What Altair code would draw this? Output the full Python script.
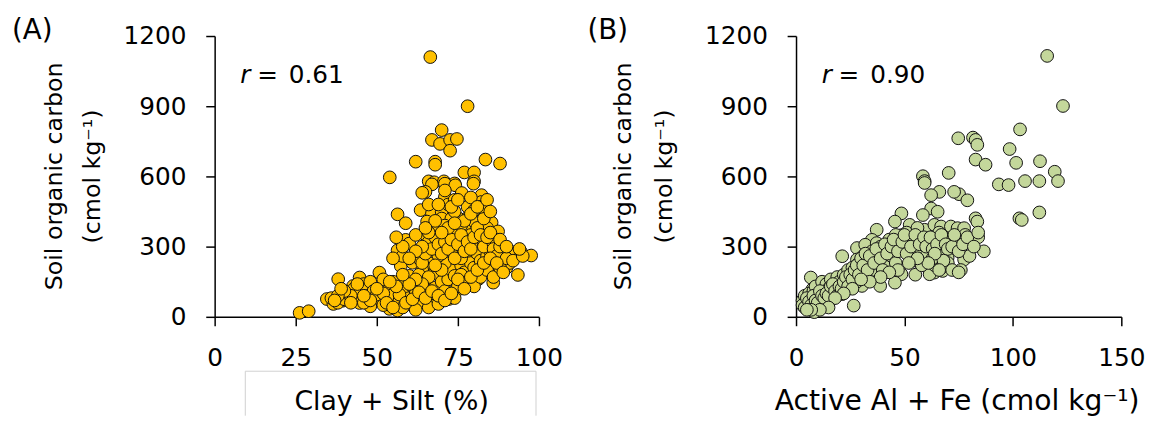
import altair as alt
import pandas as pd

# Panel A: Clay + Silt (%) vs SOC
a_x = [66.5, 78, 70, 67, 69.5, 72.6, 74.7, 72.6, 62, 68, 68, 83.5, 88, 54, 77, 80,
       66, 67.7, 70.7, 74, 80, 67, 71, 74.2, 79.8, 65, 71, 76.2, 82.3, 82.3,
       56.4, 63.5, 58.9, 67, 70, 65.5, 69.6, 75.2, 78.3, 80.3, 84.3, 85.4,
       75.7, 77.2, 87.4, 58.9, 60, 65, 67, 71, 77.7, 80.3, 82.8, 86.4,
       56.4, 66, 70, 73.2, 75.7, 68, 72.2, 78.8, 83.3, 86.4, 92, 94.5, 97.6, 89.9,
       57.4, 61, 67, 71, 75.2, 78.3, 81.3, 93.5, 85.9, 60, 64.5, 50.8,
       38.1, 44.7, 42.7, 34.6, 36.6, 39.6, 44.2, 47.8, 51.8, 51.3,
       44.7, 49.8, 55.9, 56.9, 60, 53.9, 56.4, 61, 64, 67, 70.6, 72.2, 75.2,
       71, 77.2, 81.3, 26.2, 29,
       36, 38, 40, 41, 43, 45, 46, 47, 48, 49, 50, 52, 53, 54, 55, 57, 58, 59,
       60, 61, 62, 63, 64, 65, 66, 68, 69, 70, 71, 72, 73, 74, 75, 76, 77, 78,
       79, 80, 81, 82, 83, 84, 85, 86, 87, 88, 89, 90, 91,
       72, 74, 78, 80, 76, 73, 79, 84, 70, 68, 66, 64, 62, 63, 58, 55, 48, 42,
       46, 52, 58, 62, 66, 69, 74, 57, 83, 86, 89, 76, 73, 71, 69, 66, 64,
       62, 63, 64, 65, 66, 67, 68, 69, 70, 71, 72, 73, 74, 75, 76, 77, 78, 79, 80,
       81, 82, 83, 84, 85, 86, 87, 88, 73, 74, 71, 77, 79, 82, 76, 78, 80, 82, 84,
       86, 88, 90, 92, 95, 70, 68, 66, 64, 62, 60, 58, 56, 54, 52, 50, 48, 46, 44,
       42, 40, 38, 37, 39, 53, 55, 59, 61, 63, 65, 67, 69, 71, 73, 75, 77, 79, 81,
       83, 85, 87, 89, 72, 74, 70, 68, 66, 64, 62, 60, 58, 56, 55, 65, 69, 71, 73,
       75, 79, 81, 84, 85, 88, 90, 94]
a_y = [1110, 900, 798, 756, 739, 756, 760, 710, 663, 663, 650, 672, 655, 596, 617, 617,
       579, 575, 579, 570, 579, 566, 569, 562, 569, 534, 512, 529, 520, 491,
       438, 456, 400, 442, 449, 407, 400, 421, 428, 403, 428, 403,
       379, 372, 365, 329, 313, 351, 358, 344, 329, 301, 322, 332,
       284, 308, 294, 301, 284, 266, 245, 245, 224, 245, 276, 276, 262, 224,
       217, 231, 203, 189, 203, 175, 168, 179, 146, 175, 168, 189,
       161, 168, 132, 76, 55, 69, 118, 132, 132, 118,
       59, 69, 55, 104, 97, 34, 27, 48, 90, 62, 97, 76, 118,
       139, 146, 161, 17, 24,
       80, 60, 75, 100, 120, 105, 140, 85, 150, 110, 95, 160, 80, 120, 95, 70, 130, 110,
       80, 130, 100, 60, 120, 150, 95, 125, 180, 150, 110, 160, 200, 175, 130, 220, 190, 255,
       230, 210, 270, 240, 195, 260, 280, 225, 195, 240, 260, 210, 230,
       480, 500, 470, 455, 390, 360, 350, 380, 420, 380, 480, 530, 350, 250, 260, 150, 45, 90,
       60, 50, 40, 30, 40, 55, 80, 95, 300, 310, 270, 250, 270, 230, 260, 230, 200,
       140, 180, 230, 270, 320, 290, 340, 310, 270, 320, 290, 330, 250, 310, 350, 280, 320, 290, 340,
       380, 350, 420, 340, 360, 290, 260, 300, 420, 450, 390, 410, 440, 470, 180, 150, 130, 170, 200,
       170, 210, 250, 240, 260, 200, 220, 170, 140, 160, 140, 180, 130, 150, 100, 120, 70, 90, 140,
       60, 110, 90, 70, 120, 60, 40, 60, 75, 105, 80, 110, 90, 70, 100, 160, 120, 170, 200,
       230, 250, 230, 190, 380, 400, 360, 410, 360, 300, 280, 250, 300, 340, 250, 380, 480, 540, 470,
       500, 510, 470, 500, 450, 330, 300, 290]

# Panel B: Active Al + Fe vs SOC
b_x = [115.8, 123.1, 103.3, 74.8, 81.6, 82.8, 83.6, 98.5, 82.8, 87.4, 101.5, 112.5, 119.3,
       58.5, 59.3, 70.4, 93.5, 98, 105.6, 112.2, 120.8, 59.3, 66.1, 62.3, 75.2, 79, 72.9,
       103, 104.1, 112.2, 48.6, 62.3, 65.3, 58.5, 45.6, 52.4, 37.2, 35,
       59.3, 63.8, 66.9, 71.4, 74.5, 77.5, 82.8, 83.6,
       48.6, 55.5, 61.6, 65.3, 71.4, 76, 81.3, 86.6,
       28.1, 31.9, 37.2, 42.6, 45.6, 48.6, 56.2, 52.4, 65.3, 69.9, 77.5,
       21.3, 28.1, 36.5, 40.3, 57.8, 63.8, 67.6, 61.6, 48.6, 45.6, 36.5, 38.8,
       19.8, 24.3, 28.1, 19, 22.8, 12.9, 6.8, 7.6, 4.6, 6.1, 8.4, 10.6, 15.2, 26.6,
       16.7, 21.3, 30.4, 33.4,
       3, 4, 5, 6, 7, 8, 9, 10, 11, 12, 13, 14, 15, 16, 17, 18, 19, 20, 22, 24, 25, 26,
       27, 29, 30, 31, 33, 34, 35, 38, 39, 41, 42, 43, 44, 46, 47, 50, 51, 53, 54, 56,
       58, 60, 62, 64, 66, 68, 70, 72, 74, 76, 78, 80, 84, 46, 55, 58, 63, 67, 72, 75,
       35, 32, 28, 20, 12, 9, 14,
       3, 4, 5, 6, 7, 8, 9, 10, 11, 12, 13, 14, 15, 16, 17, 18, 19, 20, 21, 22, 23, 24,
       25, 26, 27, 28, 29, 30, 31, 32, 33, 34, 36, 37, 39, 40, 41, 42, 44, 45, 47, 49,
       50, 51, 53, 55, 57, 59, 60, 62, 63, 65, 67, 69, 70, 72, 73, 75, 77, 79, 82, 84,
       68, 66, 64, 61, 56, 52, 47, 43, 39, 34, 30, 26, 22, 18, 15, 11, 7, 5]
b_y = [1115, 901, 801, 763, 766, 756, 735, 717, 672, 650, 658, 665, 620,
       601, 580, 615, 566, 563, 580, 580, 580, 572, 534, 520, 524, 498, 534,
       421, 414, 446, 442, 463, 449, 435, 407, 393, 372, 329,
       372, 393, 386, 386, 379, 379, 421, 407,
       349, 322, 307, 337, 337, 330, 322, 280,
       294, 308, 315, 315, 294, 294, 284, 266, 252, 252, 245,
       259, 245, 245, 238, 224, 189, 196, 182, 182, 146, 175, 132,
       168, 161, 196, 132, 125, 132, 168, 118, 83, 55, 20, 48, 62, 48,
       104, 97, 132, 161,
       70, 90, 60, 100, 75, 110, 130, 95, 80, 150, 110, 140, 120, 160, 100, 140, 170, 150, 180, 200, 150, 210,
       170, 230, 200, 260, 240, 210, 280, 260, 300, 280, 230, 330, 260, 350, 310, 300, 360, 330, 240, 380,
       330, 260, 300, 220, 360, 280, 230, 330, 300, 200, 350, 260, 340, 230, 180, 220, 250, 210, 200, 190,
       200, 180, 150, 100, 60, 40, 70,
       50, 40, 80, 65, 50, 90, 70, 60, 110, 90, 80, 100, 90, 130, 140, 110, 90, 130, 120, 150, 170, 130,
       180, 160, 200, 220, 180, 250, 220, 270, 200, 260, 230, 290, 250, 200, 310, 270, 300, 330, 280, 320,
       350, 270, 300, 350, 310, 340, 300, 340, 290, 310, 350, 310, 290, 300, 350, 280, 310, 340, 300, 360,
       240, 200, 270, 230, 250, 230, 200, 190, 170, 150, 160, 120, 100, 80, 40, 30, 30, 30]

FONT = "DejaVu Sans"
one = alt.Data(values=[{}])


def txt(s, x, y, size=25, align="left", baseline="alphabetic", angle=0, style="normal"):
    kw = dict(text=s, font=FONT, fontSize=size, align=align, baseline=baseline,
              color="black", fontStyle=style)
    if angle:
        kw["angle"] = angle
    return alt.Chart(one).mark_text(**kw).encode(x=alt.value(x), y=alt.value(y))


def axis(vals):
    return alt.Axis(values=vals, title=None, grid=False, labelFont=FONT, labelFontSize=25,
                    labelColor="black", tickColor="black", domainColor="black",
                    tickSize=9, tickWidth=1.5, domainWidth=1.5, labelPadding=20,
                    labelFlush=False, labelOverlap=False, format="d")


def panel(xs, ys, fill, xmax, xvals, w, letter, xtitle, xt_x, xt_size, r_text, ly1, ly2, letter_x):
    df = pd.DataFrame({"x": xs, "y": ys})
    pts = alt.Chart(df).mark_circle(size=165, fill=fill, stroke="#111111", strokeWidth=1,
                                    opacity=1, fillOpacity=1).encode(
        x=alt.X("x:Q", scale=alt.Scale(domain=[0, xmax], nice=False), axis=axis(xvals)),
        y=alt.Y("y:Q", scale=alt.Scale(domain=[0, 1200], nice=False),
                axis=axis([0, 300, 600, 900, 1200])),
    )
    layers = [pts,
              txt(letter, letter_x, -5, size=28, baseline="middle"),
              txt("r", 26, 48, style="italic"),
              txt("=", 43, 48),
              txt(r_text, 75, 48),
              txt(xtitle, xt_x, 378, size=xt_size, align="center"),
              txt("Soil organic carbon", ly1, 142, size=24, align="center", angle=270),
              txt("(cmol kg\u207b\u00b9)", ly2, 142, size=24, align="center", angle=270)]
    return alt.layer(*layers).properties(width=w, height=284)


pa = panel(a_x, a_y, "#FFC000", 100, [0, 25, 50, 75, 100], 328, "(A)", "Clay + Silt (%)",
           179, 27, "0.61", -154, -116, -205)
box = [
    alt.Chart(one).mark_rule(color="#d0d0d0", strokeWidth=1).encode(
        x=alt.value(31), y=alt.value(339), y2=alt.value(384)),
    alt.Chart(one).mark_rule(color="#d0d0d0", strokeWidth=1).encode(
        x=alt.value(325), y=alt.value(339), y2=alt.value(384)),
    alt.Chart(one).mark_rule(color="#d0d0d0", strokeWidth=1).encode(
        x=alt.value(31), x2=alt.value(325), y=alt.value(339)),
]
pa = alt.layer(pa, *box)
pb = panel(b_x, b_y, "#C4D79B", 150, [0, 50, 100, 150], 329, "(B)",
           "Active Al + Fe (cmol kg\u207b\u00b9)", 163, 28.5, "0.90", -167, -125, -211)

chart = alt.hconcat(pa, pb, spacing=25).properties(
    padding={"left": 4, "top": 7, "right": 5, "bottom": 0}
).configure_view(stroke=None)

chart.save("out.html", embed_options={"renderer": "svg", "actions": False})
